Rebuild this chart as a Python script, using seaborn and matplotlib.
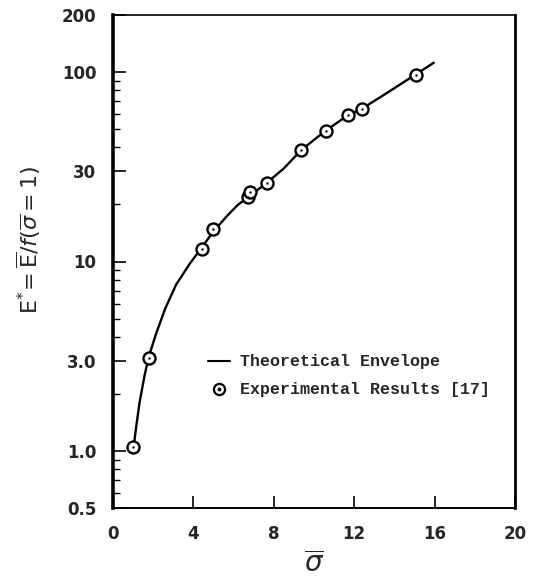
import matplotlib
matplotlib.use("Agg")
import matplotlib.pyplot as plt
import numpy as np
import pandas as pd
import seaborn as sns
from matplotlib.lines import Line2D
from matplotlib.legend_handler import HandlerTuple
from matplotlib.ticker import FixedLocator, LogLocator, NullFormatter

# theoretical envelope
sigma_curve = [1.0, 1.15, 1.32, 1.57, 1.77, 2.15, 2.6, 3.14, 3.81, 4.39, 4.97,
               5.63, 6.21, 6.71, 7.65, 8.5, 9.36, 10.57, 11.68, 12.38, 13.5,
               15.05, 15.96]
e_curve = [1.0, 1.33, 1.80, 2.5, 3.12, 4.18, 5.65, 7.55, 9.7, 11.75, 14.3,
           17.2, 19.9, 21.8, 26.0, 31.0, 38.7, 49.0, 59.0, 64.0, 76.0,
           97.0, 112.0]

# experimental results [17]
sigma_exp = [1.0, 1.78, 4.44, 4.98, 6.71, 6.84, 7.67, 9.33, 10.6, 11.68, 12.38, 15.05]
e_exp = [1.05, 3.1, 11.7, 14.8, 21.8, 23.3, 26.0, 38.9, 49.0, 59.0, 64.0, 97.0]

x_ticks = [0, 4, 8, 12, 16, 20]
y_ticks = [0.5, 1.0, 3.0, 10, 30, 100, 200]
y_ticklabels = ["0.5", "1.0", "3.0", "10", "30", "100", "200"]

curve = pd.DataFrame({"sigma": sigma_curve, "E": e_curve})
exp = pd.DataFrame({"sigma": sigma_exp, "E": e_exp})

sns.set_style("white")
plt.rcParams["font.family"] = ["DejaVu Sans"]

fig = plt.figure(figsize=(5.41, 5.8), dpi=100)
ax = fig.add_axes([113 / 541, 1 - 508 / 580, 402 / 541, 493 / 580])

sns.lineplot(data=curve, x="sigma", y="E", ax=ax, color="black", linewidth=1.7)
sns.scatterplot(data=exp, x="sigma", y="E", ax=ax, marker="o", s=75,
                facecolor="white", edgecolor="black", linewidth=1.7, zorder=3)
sns.scatterplot(data=exp, x="sigma", y="E", ax=ax, marker="o", s=3,
                color="black", linewidth=0, zorder=4)

ax.set_yscale("log")
ax.set_xlim(0, 20)
ax.set_ylim(0.5, 200)

ax.xaxis.set_major_locator(FixedLocator(x_ticks))
ax.set_xticklabels([str(t) for t in x_ticks], fontsize=12, fontweight="bold")
ax.yaxis.set_major_locator(FixedLocator(y_ticks))
ax.set_yticklabels(y_ticklabels, fontsize=12, fontweight="bold")
ax.yaxis.set_minor_locator(LogLocator(base=10, subs=np.arange(2, 10)))
ax.yaxis.set_minor_formatter(NullFormatter())

ax.tick_params(axis="both", which="major", direction="in", length=9,
               width=1.2, color="black", pad=12)
ax.tick_params(axis="y", which="minor", direction="in", length=5, width=1.0,
               color="black", left=True)
ax.tick_params(axis="x", which="major", bottom=True)
ax.tick_params(axis="y", which="major", left=True)

for side, lw in [("left", 2.6), ("bottom", 1.4), ("right", 2.0), ("top", 1.2)]:
    ax.spines[side].set_visible(True)
    ax.spines[side].set_linewidth(lw)
    ax.spines[side].set_color("black")

ax.set_xlabel(r"$\overline{\sigma}$", fontsize=20, family="serif", labelpad=6)
ax.set_ylabel(r"$\mathrm{E}^{*}\!=\overline{\mathrm{E}}/f(\overline{\sigma}=1)$",
              fontsize=16)
ax.yaxis.set_label_coords(-0.175, 0.545)

line_handle = Line2D([], [], color="black", linewidth=1.5)
circ = Line2D([], [], marker="o", linestyle="none", markersize=8,
              markerfacecolor="white", markeredgecolor="black", markeredgewidth=1.6)
dot = Line2D([], [], marker="o", linestyle="none", markersize=1.8, color="black")
ax.legend([line_handle, (circ, dot)],
          ["Theoretical Envelope", "Experimental Results [17]"],
          handler_map={tuple: HandlerTuple(ndivide=1)},
          loc="upper left", bbox_to_anchor=(0.2, 0.342), frameon=False,
          prop={"family": "Liberation Mono", "weight": "bold", "size": 12},
          handlelength=1.3, handletextpad=0.6, labelspacing=0.78)

ax.set_facecolor("white")
fig.patch.set_facecolor("white")
fig.savefig("out.png", dpi=100)
